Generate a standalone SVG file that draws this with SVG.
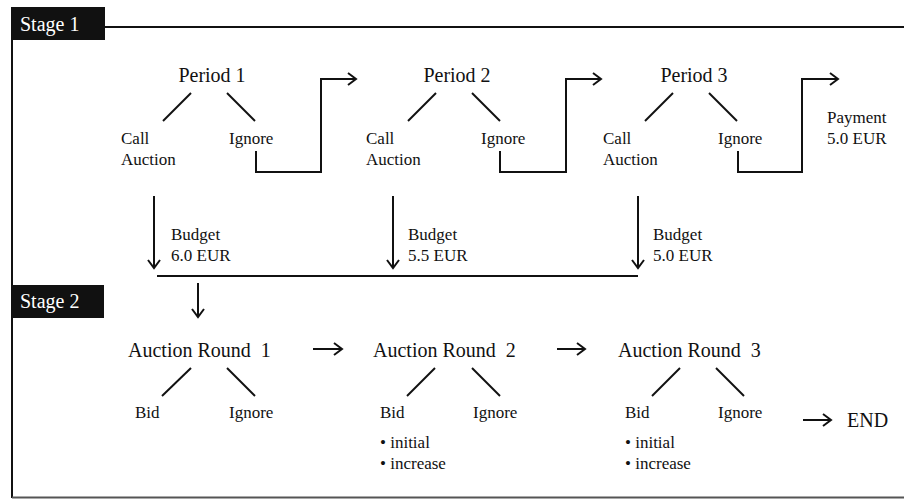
<svg xmlns="http://www.w3.org/2000/svg" width="904" height="500" viewBox="0 0 904 500">
<style>
  text { font-family: "Liberation Serif", "Times New Roman", serif; fill: #111; }
  .big { font-size: 20px; }
  .lbl { font-size: 17px; }
  .stage { font-size: 20px; fill: #fff; }
  .ln { stroke: #111; stroke-width: 2; fill: none; }
  .arr { stroke: #111; stroke-width: 2; fill: none; marker-end: url(#ah); }
</style>
<defs>
  <marker id="ah" markerUnits="userSpaceOnUse" markerWidth="14" markerHeight="14" refX="11" refY="7" orient="auto">
    <path d="M3,1 L11,7 L3,13" stroke="#111" stroke-width="2" fill="none"/>
  </marker>
</defs>
<rect width="904" height="500" fill="#fff"/>

<g id="frame">
  <line class="ln" x1="105" y1="27" x2="904" y2="27"/>
  <line class="ln" x1="12" y1="40" x2="12" y2="498"/>
  <line x1="12" y1="497.5" x2="904" y2="497.5" stroke="#555" stroke-width="2"/>
</g>

<g id="stage1">
  <rect x="11" y="7" width="94" height="33" fill="#111"/>
  <text class="stage" x="20" y="31">Stage 1</text>
</g>
<g id="stage2">
  <rect x="11" y="285" width="93" height="33" fill="#111"/>
  <text class="stage" x="20" y="308">Stage 2</text>
</g>

<g id="period1">
  <text class="big" x="212" y="82" text-anchor="middle">Period 1</text>
  <line class="ln" x1="191" y1="93" x2="163" y2="121"/>
  <line class="ln" x1="227" y1="93" x2="255" y2="121"/>
  <text class="lbl" x="121" y="144">Call</text>
  <text class="lbl" x="121" y="165">Auction</text>
  <text class="lbl" x="229" y="144">Ignore</text>
</g>
<g id="period2">
  <text class="big" x="457" y="82" text-anchor="middle">Period 2</text>
  <line class="ln" x1="436" y1="93" x2="408" y2="121"/>
  <line class="ln" x1="472" y1="93" x2="500" y2="121"/>
  <text class="lbl" x="366" y="144">Call</text>
  <text class="lbl" x="366" y="165">Auction</text>
  <text class="lbl" x="481" y="144">Ignore</text>
</g>
<g id="period3">
  <text class="big" x="694" y="82" text-anchor="middle">Period 3</text>
  <line class="ln" x1="673" y1="93" x2="645" y2="121"/>
  <line class="ln" x1="709" y1="93" x2="737" y2="121"/>
  <text class="lbl" x="603" y="144">Call</text>
  <text class="lbl" x="603" y="165">Auction</text>
  <text class="lbl" x="718" y="144">Ignore</text>
</g>
<g id="payment">
  <text class="lbl" x="827" y="123">Payment</text>
  <text class="lbl" x="827" y="144">5.0 EUR</text>
</g>
<g id="budget1">
  <text class="lbl" x="171" y="240">Budget</text>
  <text class="lbl" x="171" y="261">6.0 EUR</text>
</g>
<g id="budget2">
  <text class="lbl" x="408" y="240">Budget</text>
  <text class="lbl" x="408" y="261">5.5 EUR</text>
</g>
<g id="budget3">
  <text class="lbl" x="653" y="240">Budget</text>
  <text class="lbl" x="653" y="261">5.0 EUR</text>
</g>

<g id="round1">
  <text class="big" x="128" y="357" xml:space="preserve">Auction Round  1</text>
  <line class="ln" x1="191" y1="368" x2="162" y2="396"/>
  <line class="ln" x1="227" y1="368" x2="255" y2="396"/>
  <text class="lbl" x="135" y="418">Bid</text>
  <text class="lbl" x="229" y="418">Ignore</text>
</g>
<g id="round2">
  <text class="big" x="373" y="357" xml:space="preserve">Auction Round  2</text>
  <line class="ln" x1="435" y1="368" x2="407" y2="396"/>
  <line class="ln" x1="472" y1="368" x2="500" y2="396"/>
  <text class="lbl" x="380" y="418">Bid</text>
  <text class="lbl" x="473" y="418">Ignore</text>
  <text class="lbl" x="380" y="448">• initial</text>
  <text class="lbl" x="380" y="469">• increase</text>
</g>
<g id="round3">
  <text class="big" x="618" y="357" xml:space="preserve">Auction Round  3</text>
  <line class="ln" x1="680" y1="368" x2="652" y2="396"/>
  <line class="ln" x1="716" y1="368" x2="744" y2="396"/>
  <text class="lbl" x="625" y="418">Bid</text>
  <text class="lbl" x="718" y="418">Ignore</text>
  <text class="lbl" x="625" y="448">• initial</text>
  <text class="lbl" x="625" y="469">• increase</text>
</g>
<g id="end">
  <text class="big" x="847" y="427">END</text>
</g>

<g id="connectors">
  <polyline class="arr" points="256,151 256,172 321,172 321,79 356,79"/>
  <polyline class="arr" points="500,151 500,172 566,172 566,79 601,79"/>
  <polyline class="arr" points="738,151 738,172 802,172 802,79 838,79"/>
  <line class="arr" x1="154" y1="196" x2="154" y2="268"/>
  <line class="arr" x1="393" y1="196" x2="393" y2="268"/>
  <line class="arr" x1="638" y1="196" x2="638" y2="268"/>
  <line class="ln" x1="157" y1="276" x2="638" y2="276"/>
  <line class="arr" x1="198" y1="283" x2="198" y2="317"/>
  <line class="arr" x1="313" y1="349" x2="342" y2="349"/>
  <line class="arr" x1="557" y1="349" x2="585" y2="349"/>
  <line class="arr" x1="803" y1="420" x2="831" y2="420"/>
</g>
</svg>
